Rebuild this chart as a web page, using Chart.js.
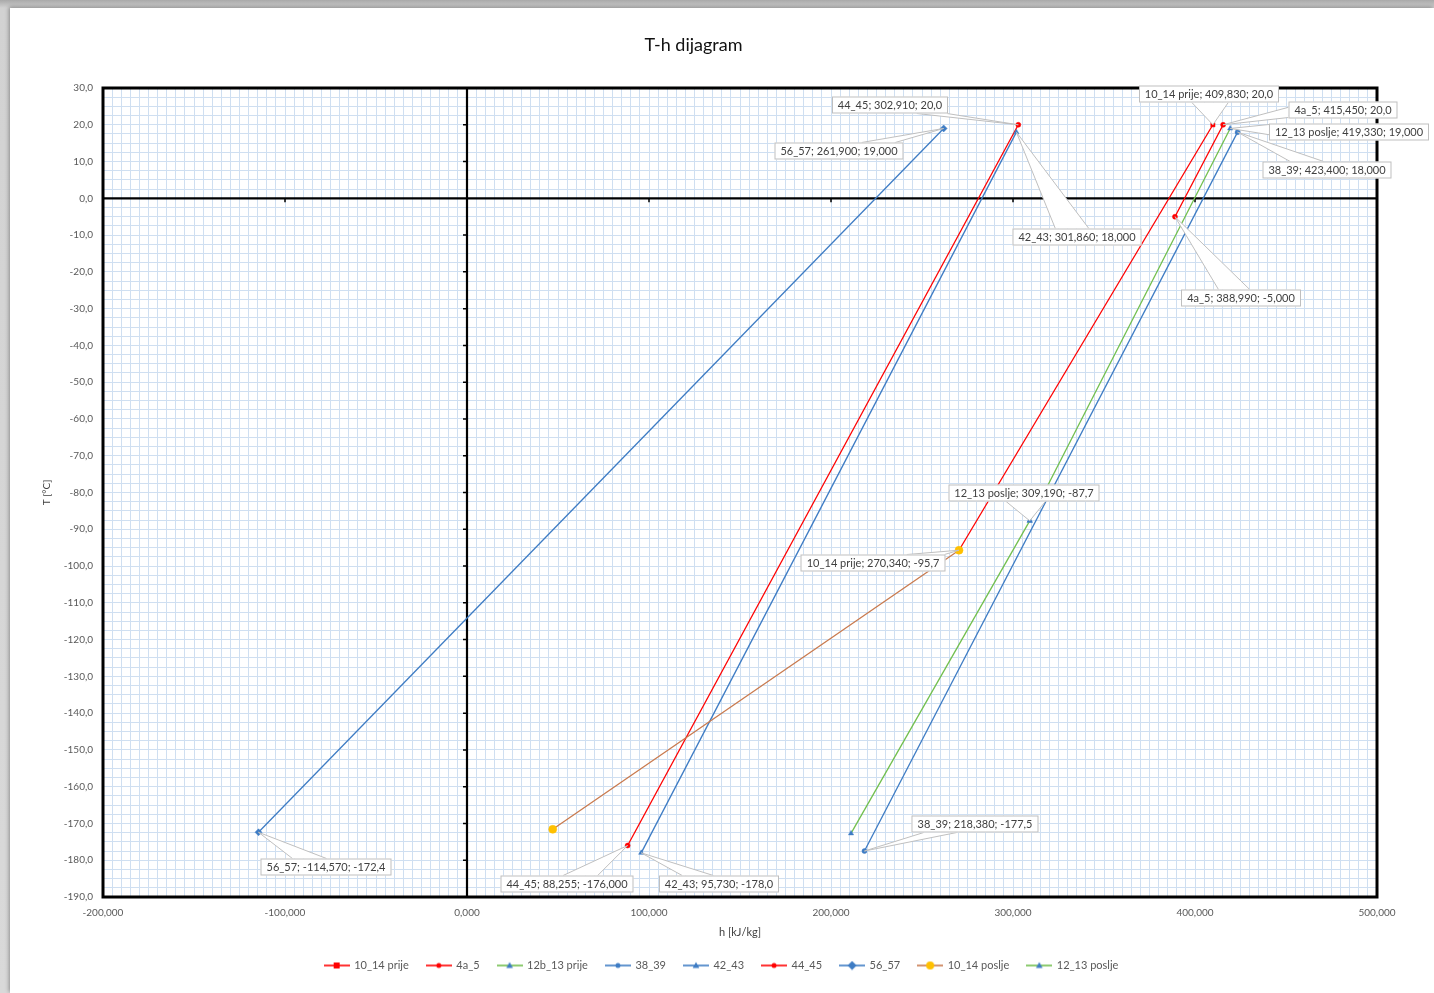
<!DOCTYPE html>
<html><head><meta charset="utf-8">
<script src="https://cdn.jsdelivr.net/npm/chart.js@4.4.1/dist/chart.umd.min.js"></script>
<style>
html,body{margin:0;padding:0;overflow:hidden;width:1434px;height:993px;background:linear-gradient(#a9a9a9 0px,#d2d2d2 8px,#d9d9d9 100%);}
#wrap{position:absolute;left:10px;top:8px;width:1424px;height:985px;background:#fff;box-shadow:-1px -1px 4px rgba(0,0,0,0.35);}
canvas{display:block;}
</style></head><body><div id="wrap"><canvas id="c"></canvas></div>
<script>
// ---- data ----
const seriesNames = ['10_14 prije','4a_5','12b_13 prije','38_39','42_43','44_45','56_57','10_14 poslje','12_13 poslje'];
const h_10_14_prije = [409.830, 270.340];
const T_10_14_prije = [20.0, -95.7];
const h_4a_5 = [415.450, 388.990];
const T_4a_5 = [20.0, -5.0];
const h_12b_13_prije = [309.190, 211.0];
const T_12b_13_prije = [-87.7, -172.7];
const h_38_39 = [423.400, 218.380];
const T_38_39 = [18.0, -177.5];
const h_42_43 = [301.860, 95.730];
const T_42_43 = [18.0, -178.0];
const h_44_45 = [302.910, 88.255];
const T_44_45 = [20.0, -176.0];
const h_56_57 = [261.900, -114.570];
const T_56_57 = [19.0, -172.4];
const h_10_14_poslje = [270.340, 47.1];
const T_10_14_poslje = [-95.7, -171.6];
const h_12_13_poslje = [419.330, 309.190];
const T_12_13_poslje = [19.0, -87.7];
const xAxisRange = [-200, 500];
const yAxisRange = [-190, 30];
const xLabelStep = 100, yLabelStep = 10;
const xGridStep = 5, yGridStep = 2.5;

const seriesH = [h_10_14_prije,h_4a_5,h_12b_13_prije,h_38_39,h_42_43,h_44_45,h_56_57,h_10_14_poslje,h_12_13_poslje];
const seriesT = [T_10_14_prije,T_4a_5,T_12b_13_prije,T_38_39,T_42_43,T_44_45,T_56_57,T_10_14_poslje,T_12_13_poslje];

// ---- styles ----
const RED='#ff0000', BLUE='#3e7cc4', GREEN='#72bf4e', ORANGE='#c97a4e', YEL='#ffc000';
const styles = [
  {line:RED, marker:RED, shape:'rect', r:3},
  {line:RED, marker:RED, shape:'circle', r:2.5},
  {line:GREEN, marker:BLUE, shape:'triangle', r:3},
  {line:BLUE, marker:BLUE, shape:'circle', r:2.5},
  {line:BLUE, marker:BLUE, shape:'triangle', r:3},
  {line:RED, marker:RED, shape:'circle', r:2.5},
  {line:BLUE, marker:BLUE, shape:'rectRot', r:3.5},
  {line:ORANGE, marker:YEL, shape:'circle', r:4},
  {line:GREEN, marker:BLUE, shape:'triangle', r:3}
];

// callout positions (pixel offsets of the label box centre from its point)
const callouts = [
 {ds:5, pt:0, yDec:1, dx:-128, dy:-20},
 {ds:0, pt:0, yDec:1, dx:-4, dy:-31},
 {ds:1, pt:0, yDec:1, dx:120, dy:-15},
 {ds:8, pt:0, yDec:3, dx:119, dy:4},
 {ds:3, pt:0, yDec:3, dx:89, dy:38},
 {ds:6, pt:0, yDec:3, dx:-105, dy:23},
 {ds:4, pt:0, yDec:3, dx:61, dy:105},
 {ds:1, pt:1, yDec:3, dx:66, dy:81},
 {ds:8, pt:1, yDec:1, dx:-6, dy:-28},
 {ds:0, pt:1, yDec:1, dx:-86, dy:13},
 {ds:3, pt:1, yDec:1, dx:111, dy:-27},
 {ds:6, pt:1, yDec:1, dx:68, dy:35},
 {ds:5, pt:1, yDec:3, dx:-61, dy:38},
 {ds:4, pt:1, yDec:1, dx:78, dy:31}
];

const FONT = 'Lato, "Open Sans", "Liberation Sans", sans-serif';
Chart.defaults.font.family = FONT;
const fmt = (v,d) => v.toFixed(d).replace('.', ',');
const isMult = (v,s) => Math.abs(v/s - Math.round(v/s)) < 1e-6;

function shapePath(g, shape, x, y, r){
  g.beginPath();
  if(shape==='circle'){ g.arc(x,y,r,0,Math.PI*2); }
  else if(shape==='rect'){ g.rect(x-r,y-r,2*r,2*r); }
  else if(shape==='rectRot'){ g.moveTo(x,y-r*1.3); g.lineTo(x+r*1.3,y); g.lineTo(x,y+r*1.3); g.lineTo(x-r*1.3,y); g.closePath(); }
  else if(shape==='triangle'){ g.moveTo(x,y-r*1.2); g.lineTo(x+r*1.1,y+r*0.8); g.lineTo(x-r*1.1,y+r*0.8); g.closePath(); }
}
function legendIcon(st){
  const c=document.createElement('canvas'); c.width=26; c.height=10;
  const g=c.getContext('2d');
  g.strokeStyle=st.line; g.lineWidth=1.6; g.beginPath(); g.moveTo(0,5); g.lineTo(26,5); g.stroke();
  g.fillStyle=st.marker; shapePath(g, st.shape, 13, 5, st.r); g.fill();
  return c;
}
const legendIcons = styles.map(legendIcon);

const datasets = seriesNames.map((name,i)=>({
  label: name,
  data: seriesH[i].map((h,j)=>({x:h, y:seriesT[i][j]})),
  showLine: true,
  borderColor: styles[i].line,
  backgroundColor: styles[i].marker,
  pointBackgroundColor: styles[i].marker,
  pointBorderColor: styles[i].marker,
  pointStyle: styles[i].shape,
  pointRadius: styles[i].r,
  pointBorderWidth: 0.5,
  borderWidth: 1.3,
  tension: 0,
  order: i===7 ? -1 : 0
}));

const GRID = '#cfdff1';

const axesDeco = {
  id:'axesDeco',
  beforeDatasetsDraw(chart){
    const {ctx, chartArea:a, scales:{x,y}} = chart;
    const x0 = x.getPixelForValue(0), y0 = y.getPixelForValue(0);
    ctx.save();
    ctx.strokeStyle='#000'; ctx.lineWidth=2.2;
    ctx.beginPath(); ctx.moveTo(x0,a.top); ctx.lineTo(x0,a.bottom); ctx.moveTo(a.left,y0); ctx.lineTo(a.right,y0); ctx.stroke();
    ctx.lineWidth=1.5; ctx.beginPath();
    for(let v=xAxisRange[0]+xLabelStep; v<xAxisRange[1]; v+=xLabelStep){ if(v===0) continue; const px=x.getPixelForValue(v); ctx.moveTo(px,y0); ctx.lineTo(px,y0+4); }
    for(let v=yAxisRange[0]+yLabelStep; v<yAxisRange[1]; v+=yLabelStep){ if(v===0) continue; const py=y.getPixelForValue(v); ctx.moveTo(x0-4,py); ctx.lineTo(x0,py); }
    ctx.stroke();
    ctx.restore();
  },
  afterDatasetsDraw(chart){
    const {ctx, chartArea:a} = chart;
    ctx.save();
    ctx.strokeStyle='#000'; ctx.lineWidth=3;
    ctx.strokeRect(a.left, a.top, a.right-a.left, a.bottom-a.top);
    ctx.font = '11px ' + FONT;
    ctx.textBaseline='middle'; ctx.textAlign='center';
    callouts.forEach(s=>{
      const el = chart.getDatasetMeta(s.ds).data[s.pt];
      const ds = chart.data.datasets[s.ds];
      const v = ds.data[s.pt];
      const text = ds.label + '; ' + fmt(v.x,3) + '; ' + fmt(v.y,s.yDec);
      const bw = Math.round(ctx.measureText(text).width + 12), bh = 17;
      const px = el.x, py = el.y;
      const cx = Math.round(px + s.dx), cy = Math.round(py + s.dy);
      const bx = cx - bw/2, by = cy - bh/2;
      const rx = px - cx, ry = py - cy;
      const inside = Math.abs(rx) < bw/2 && Math.abs(ry) < bh/2;
      if(!inside){
        let b1, b2;
        if(Math.abs(rx)/(bw/2) > Math.abs(ry)/(bh/2)){
          const ex = cx + Math.sign(rx)*bw/2;
          const iy = cy + ry*(bw/2)/Math.abs(rx);
          const hh = bh*0.3;
          const c1 = Math.max(by+1, Math.min(by+bh-1-2*hh, iy-hh));
          b1 = [ex, c1]; b2 = [ex, c1+2*hh];
        } else {
          const ey = cy + Math.sign(ry)*bh/2;
          const ix = cx + rx*(bh/2)/Math.abs(ry);
          const hw = bw*0.13;
          const c1 = Math.max(bx+1, Math.min(bx+bw-1-2*hw, ix-hw));
          b1 = [c1, ey]; b2 = [c1+2*hw, ey];
        }
        ctx.beginPath(); ctx.moveTo(b1[0],b1[1]); ctx.lineTo(px,py); ctx.lineTo(b2[0],b2[1]); ctx.closePath();
        ctx.fillStyle='#fff'; ctx.fill();
        ctx.beginPath(); ctx.moveTo(b1[0],b1[1]); ctx.lineTo(px,py); ctx.lineTo(b2[0],b2[1]);
        ctx.strokeStyle='#bfbfbf'; ctx.lineWidth=1; ctx.stroke();
      }
      ctx.fillStyle='#fff'; ctx.fillRect(bx,by,bw,bh);
      ctx.strokeStyle='#bfbfbf'; ctx.lineWidth=1; ctx.strokeRect(bx+0.5,by+0.5,bw-1,bh-1);
      ctx.fillStyle='#404040'; ctx.fillText(text, cx, cy+0.5);
    });
    ctx.restore();
  }
};

const legendShift = { id:'legendShift', afterLayout(chart){ if(chart.legend){ chart.legend.left += 28; chart.legend.right += 28; } } };

new Chart(document.getElementById('c'), {
  type: 'scatter',
  data: { datasets },
  plugins: [axesDeco, legendShift],
  options: {
    responsive: true,
    maintainAspectRatio: false,
    animation: false,
    layout: { padding: { left: 0, right: 57, top: 0, bottom: 12 } },
    plugins: {
      title: { display: true, text: 'T-h dijagram', color: '#111', font: { size: 18, weight: 'normal', family: FONT }, padding: { top: 26, bottom: 32.4 } },
      legend: {
        position: 'bottom',
        labels: {
          usePointStyle: true, pointStyleWidth: 24, padding: 18, color: '#595959',
          font: { size: 11, family: FONT },
          sort: (a,b) => a.datasetIndex - b.datasetIndex,
          generateLabels(chart){
            const items = Chart.defaults.plugins.legend.labels.generateLabels(chart);
            items.forEach(it => { it.pointStyle = legendIcons[it.datasetIndex]; });
            return items;
          }
        }
      },
      tooltip: { enabled: false }
    },
    scales: {
      x: {
        type: 'linear', min: xAxisRange[0], max: xAxisRange[1],
        afterFit(scale){ scale.height = 45; },
        border: { display: false },
        grid: { color: GRID, lineWidth: 1, drawTicks: false },
        ticks: { stepSize: xGridStep, maxTicksLimit: 1000, autoSkip: false, maxRotation: 0, padding: 10, color: '#595959', font: { size: 10, family: FONT },
          callback: v => isMult(v, xLabelStep) ? fmt(v,3) : '' },
        title: { display: true, text: 'h [kJ/kg]', color: '#404040', font: { size: 11, family: FONT }, padding: { top: 0, bottom: 3 } }
      },
      y: {
        type: 'linear', min: yAxisRange[0], max: yAxisRange[1],
        afterFit(scale){ scale.width = 93; },
        border: { display: false },
        grid: { color: GRID, lineWidth: 1, drawTicks: false },
        ticks: { stepSize: yGridStep, maxTicksLimit: 1000, autoSkip: false, padding: 10, color: '#595959', font: { size: 10, family: FONT },
          callback: v => isMult(v, yLabelStep) ? fmt(v,1) : '' },
        title: { display: true, text: 'T [°C]', color: '#404040', font: { size: 10, family: FONT }, padding: { top: 31, bottom: 0 } }
      }
    }
  }
});
</script></body></html>
